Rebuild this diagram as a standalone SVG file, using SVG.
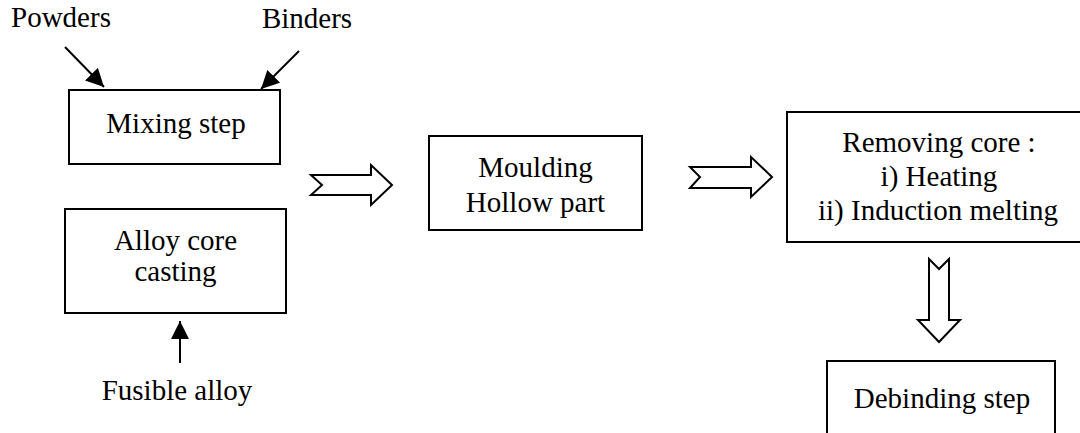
<svg xmlns="http://www.w3.org/2000/svg" width="1080" height="433" viewBox="0 0 1080 433">
<defs>
<style>
.box{fill:#fff;stroke:#000;stroke-width:2}
.t{font-family:"Liberation Serif","Times New Roman",serif;font-size:29px;fill:#000;text-anchor:middle}
.hollow{fill:#fff;stroke:#000;stroke-width:2;stroke-linejoin:miter}
.ln{stroke:#000;stroke-width:2;fill:none}
</style>
<marker id="ah" viewBox="0 0 10 10" refX="10" refY="5" markerWidth="9" markerHeight="9" markerUnits="userSpaceOnUse" orient="auto">
<path d="M0,0 L10,5 L0,10 Z" fill="#000"/>
</marker>
<marker id="ah2" viewBox="0 0 10 10" refX="10" refY="5" markerWidth="18" markerHeight="18" markerUnits="userSpaceOnUse" orient="auto">
<path d="M0,0 L10,5 L0,10 Z" fill="#000"/>
</marker>
</defs>
<rect width="1080" height="433" fill="#fff"/>
<g id="labels">
<text class="t" x="61" y="27">Powders</text>
<text class="t" x="307" y="28">Binders</text>
<text class="t" x="177" y="400">Fusible alloy</text>
</g>
<g id="mixing">
<rect class="box" x="69" y="90" width="211" height="74"/>
<text class="t" x="176" y="133">Mixing step</text>
</g>
<g id="alloy">
<rect class="box" x="65" y="209" width="221" height="104"/>
<text class="t" x="175.5" y="250">Alloy core</text>
<text class="t" x="175.5" y="281">casting</text>
</g>
<g id="moulding">
<rect class="box" x="429" y="136" width="213" height="94"/>
<text class="t" x="535.5" y="177">Moulding</text>
<text class="t" x="535.5" y="212">Hollow part</text>
</g>
<g id="removing">
<rect class="box" x="787" y="112" width="310" height="130"/>
<text class="t" x="939" y="152">Removing core :</text>
<text class="t" x="939" y="186">i) Heating</text>
<text class="t" x="938" y="220">ii) Induction melting</text>
</g>
<g id="debinding">
<rect class="box" x="827" y="361" width="228" height="90"/>
<text class="t" x="942" y="408">Debinding step</text>
</g>
<g id="connectors">
<path d="M65,47 L104,87" class="ln" stroke="#000" marker-end="url(#ah2)"/>
<path d="M299,51 L261,89" class="ln" marker-end="url(#ah2)"/>
<path d="M180,363 L180,321" class="ln" marker-end="url(#ah2)"/>
<path class="hollow" d="M311,175 L371,175 L371,165 L392,185 L371,205 L371,195 L311,195 L322,185 Z"/>
<path class="hollow" d="M690,167 L751,167 L751,157 L772,177 L751,197 L751,188 L690,188 L700,177 Z"/>
<path class="hollow" d="M929,259 L939,269 L949,259 L949,320 L960,320 L939,342 L918,320 L929,320 Z"/>
</g>
</svg>
